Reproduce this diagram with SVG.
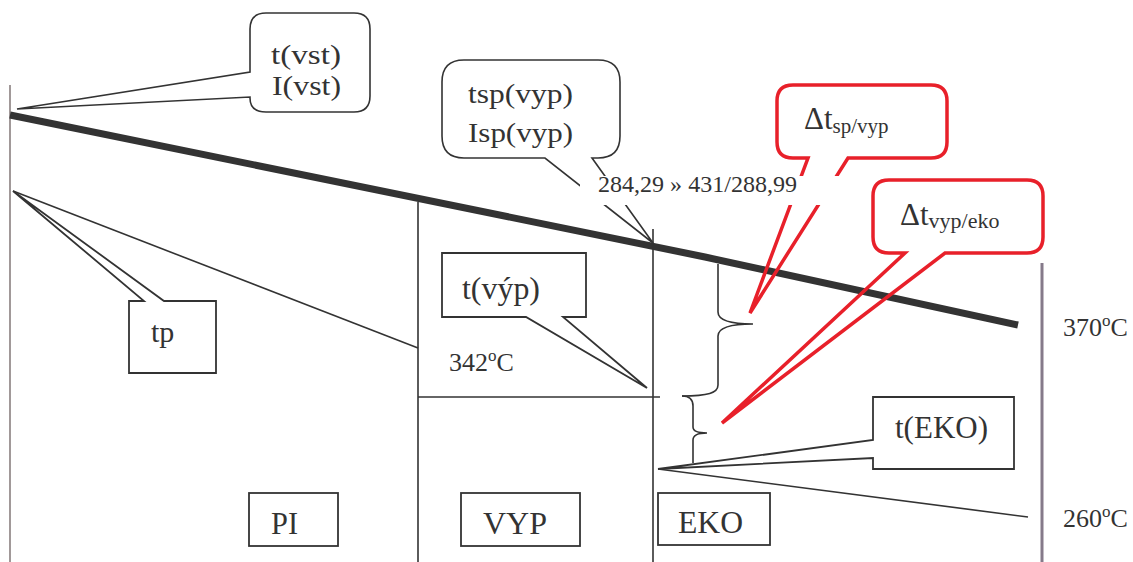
<svg xmlns="http://www.w3.org/2000/svg" width="1133" height="562" viewBox="0 0 1133 562" font-family="'Liberation Serif', 'Times New Roman', 'DejaVu Serif', serif">
<style>
text{font-family:'Liberation Serif','Times New Roman','DejaVu Serif',serif;fill:#333}
.ln{stroke:#333;stroke-width:1.6;fill:none}
.bx{stroke:#333;stroke-width:1.8;fill:#fff}
.co{stroke:#333;stroke-width:1.6;fill:none}
.rd{stroke:#e8202a;stroke-width:3.5;fill:none;stroke-linejoin:miter}
</style>
<rect width="1133" height="562" fill="#fff"/>
<g id="connectors">
<line x1="10" y1="85" x2="10" y2="562" stroke="#8a7f7f" stroke-width="1.6"/>
<line x1="1042" y1="263" x2="1042" y2="562" stroke="#857a8a" stroke-width="3"/>
<polyline points="10,115 705,257 1018,325" stroke="#333" stroke-width="7" fill="none"/>
<line class="ln" x1="418" y1="202" x2="418" y2="562"/>
<line class="ln" x1="653" y1="229" x2="653" y2="562"/>
<line class="ln" x1="418" y1="397" x2="660" y2="397"/>
<line class="ln" x1="13" y1="191" x2="418" y2="348"/>
<line class="ln" x1="658" y1="469" x2="1028" y2="517"/>
<path class="ln" d="M718,264 L718,312 C718,320 728,324 753,324 C728,324 718,328 718,336 L718,385 C718,393 708,396 682,396"/>
<path class="ln" d="M682,396 C690,396 693,400 693,406 L693,427 C693,431 697,433 707,433 C697,433 693,436 693,440 L693,463"/>
</g>
<g id="callout-vst">
<path class="co" fill="#fff" d="M266,13 H354 Q370,13 370,29 V96 Q370,112 354,112 H266 Q250,112 250,98 V97 L17,109 L250,72 V29 Q250,13 266,13 Z"/>
<text x="271" y="64" font-size="28" textLength="70" lengthAdjust="spacingAndGlyphs">t(vst)</text>
<text x="272" y="95" font-size="28" textLength="69" lengthAdjust="spacingAndGlyphs">I(vst)</text>
</g>
<g id="callout-tsp">
<path class="co" d="M464,60 H598 Q620,60 620,82 V136 Q620,158 598,158 H592 L653,243 L545,158 H464 Q442,158 442,136 V82 Q442,60 464,60 Z"/>
<text x="468" y="103" font-size="28" textLength="105" lengthAdjust="spacingAndGlyphs">tsp(vyp)</text>
<text x="468" y="142" font-size="28" textLength="105" lengthAdjust="spacingAndGlyphs">Isp(vyp)</text>
</g>
<g id="callout-dt-sp">
<path class="rd" d="M793,85 H931 Q947,85 947,101 V142 Q947,158 931,158 H848 L750,313 L808,158 H793 Q777,158 777,142 V101 Q777,85 793,85 Z"/>
<text x="804" y="129" font-size="31">Δt<tspan font-size="21" dy="4">sp/vyp</tspan></text>
</g>
<g id="callout-dt-eko">
<path class="rd" d="M889,180 H1027 Q1043,180 1043,196 V237 Q1043,253 1027,253 H945 L722,423 L905,253 H889 Q873,253 873,237 V196 Q873,180 889,180 Z"/>
<text x="900" y="225" font-size="31">Δt<tspan font-size="22" dy="3">vyp/eko</tspan></text>
</g>
<g id="label-ratio">
<rect x="580" y="176" width="265" height="29" fill="#fff"/>
<text x="598" y="192" font-size="23" textLength="199" lengthAdjust="spacingAndGlyphs">284,29 » 431/288,99</text>
</g>
<g id="callout-tvyp">
<path class="bx" d="M442,253 H586 V317 H563 L647,388 L526,317 H442 Z"/>
<text x="462" y="299" font-size="32" textLength="78" lengthAdjust="spacingAndGlyphs">t(výp)</text>
</g>
<g id="callout-tp">
<path class="bx" d="M129,301 H144 L13,191 L164,301 H216 V373 H129 Z"/>
<text x="151" y="342" font-size="30">tp</text>
</g>
<g id="callout-teko">
<path class="bx" d="M873,397 H1014 V469 H873 V458 L658,469 L873,440 Z"/>
<text x="895" y="438" font-size="31" textLength="93" lengthAdjust="spacingAndGlyphs">t(EKO)</text>
</g>
<g id="label-342">
<text x="449" y="371" font-size="26">342<tspan font-size="17" dy="-10">o</tspan><tspan dy="10">C</tspan></text>
</g>
<g id="label-370">
<text x="1063" y="336" font-size="26">370<tspan font-size="17" dy="-10">o</tspan><tspan dy="10">C</tspan></text>
</g>
<g id="label-260">
<text x="1063" y="527" font-size="26">260<tspan font-size="17" dy="-10">o</tspan><tspan dy="10">C</tspan></text>
</g>
<g id="box-pi">
<rect class="bx" x="249" y="493" width="89" height="53"/>
<text x="271" y="534" font-size="31" textLength="27" lengthAdjust="spacingAndGlyphs">PI</text>
</g>
<g id="box-vyp">
<rect class="bx" x="461" y="493" width="119" height="53"/>
<text x="483" y="534" font-size="32" textLength="64" lengthAdjust="spacingAndGlyphs">VYP</text>
</g>
<g id="box-eko">
<rect class="bx" x="658" y="493" width="112" height="52"/>
<text x="678" y="533" font-size="32" textLength="65" lengthAdjust="spacingAndGlyphs">EKO</text>
</g>
</svg>
